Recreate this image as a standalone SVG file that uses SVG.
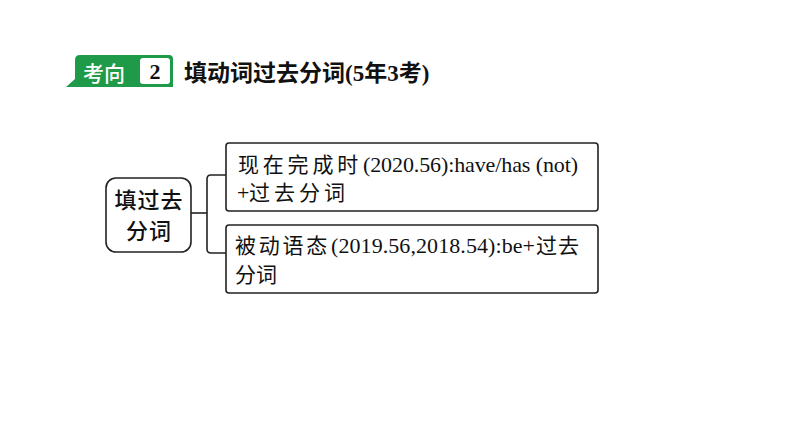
<svg xmlns="http://www.w3.org/2000/svg" width="794" height="447" viewBox="0 0 794 447">
<style>
.box{fill:#fff;stroke:#222;stroke-width:1.6}
.con{fill:none;stroke:#222;stroke-width:1.6}
.cjk{font-family:"Noto Sans CJK SC",sans-serif;font-size:21px;fill:#111}
.lat{font-family:"Liberation Serif","Noto Sans CJK SC",serif;font-size:22px;fill:#111}
.main{font-family:"Noto Sans CJK SC",sans-serif;font-size:22px;font-weight:500;fill:#111;text-anchor:middle;letter-spacing:1px}
.title{font-family:"Noto Sans CJK SC",sans-serif;font-size:23px;font-weight:bold;fill:#111}
.titlelat{font-family:"Liberation Serif","Noto Sans CJK SC",serif;font-size:23px;font-weight:bold;fill:#111}
</style>
<rect width="794" height="447" fill="#fff"/>
<g id="header">
<path d="M80,55 H169 Q173,55 173,59 V87 H66 L75,79 V60 Q75,55 80,55 Z" fill="#1f9a48"/>
<text x="104" y="81" font-family="Noto Sans CJK SC,sans-serif" font-size="21" font-weight="500" fill="#fff" text-anchor="middle">考向</text>
<rect x="140" y="58" width="30" height="26" rx="3" fill="#fff"/>
<text x="155" y="79" font-family="Liberation Serif,serif" font-size="22" font-weight="bold" fill="#111" text-anchor="middle">2</text>
<text y="81"><tspan x="184" class="title">填动词过去分词</tspan><tspan class="titlelat">(5</tspan><tspan class="title">年</tspan><tspan class="titlelat">3</tspan><tspan class="title">考</tspan><tspan class="titlelat">)</tspan></text>
</g>
<g id="connectors">
<path class="con" d="M191,213 H207"/>
<path class="con" d="M226,175 H211 Q207,175 207,179 V249 Q207,253 211,253 H226"/>
</g>
<g id="node-main">
<rect class="box" x="106" y="178" width="85" height="74" rx="10"/>
<text class="main" x="149" y="208">填过去</text>
<text class="main" x="149" y="239">分词</text>
</g>
<g id="node-1">
<rect class="box" x="226" y="143" width="372" height="68" rx="3"/>
<text y="172"><tspan x="238" class="cjk" letter-spacing="3.8">现在完成时</tspan><tspan x="363" class="lat" textLength="215" lengthAdjust="spacing">(2020.56):have/has (not)</tspan></text>
<text y="200"><tspan x="237" class="lat">+</tspan><tspan x="249" class="cjk" letter-spacing="4">过去分词</tspan></text>
</g>
<g id="node-2">
<rect class="box" x="226" y="225" width="372" height="68" rx="3"/>
<text y="253"><tspan x="235" class="cjk" letter-spacing="2.75">被动语态</tspan><tspan x="331" class="lat" textLength="204" lengthAdjust="spacing">(2019.56,2018.54):be+</tspan><tspan x="536" class="cjk" letter-spacing="1">过去</tspan></text>
<text y="282"><tspan x="235" class="cjk">分词</tspan></text>
</g>
</svg>
